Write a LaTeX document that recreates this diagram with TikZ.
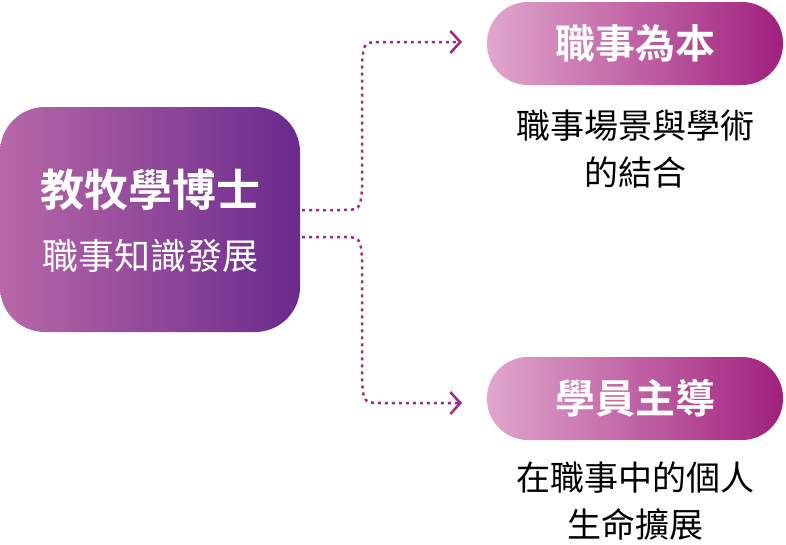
\documentclass[tikz,border=0pt]{standalone}
\usepackage{fontspec}
\usetikzlibrary{arrows.meta,positioning}
\newfontfamily\cjk{Noto Sans CJK TC}
\newfontfamily\cjkbold{Noto Sans CJK TC Bold}
\definecolor{mainL}{HTML}{B868A8}
\definecolor{mainR}{HTML}{6A2A8C}
\definecolor{pillL}{HTML}{E0A6CC}
\definecolor{pillR}{HTML}{A0207E}
\definecolor{linkc}{HTML}{9C2A88}
\tikzset{
  mainbox/.style={minimum width=300pt,minimum height=225pt,rounded corners=45pt,left color=mainL,right color=mainR,inner sep=0pt},
  pillbox/.style={minimum width=296pt,minimum height=83pt,rounded corners=41pt,left color=pillL,right color=pillR,inner sep=0pt,text=white,font=\cjkbold\fontsize{40}{44}\selectfont},
  desc/.style={align=center,font=\cjk\fontsize{34}{47}\selectfont},
  link/.style={draw=linkc,line width=2.5pt,dash pattern=on 3pt off 4pt,-{Straight Barb[length=10pt,width=22pt,line width=2.5pt]}}
}
\begin{document}
\begin{tikzpicture}[x=1pt,y=-1pt]
\useasboundingbox (0,0) rectangle (786,544);
\node[mainbox] (main) at (150,219.5) {};
\node[text=white,font=\cjkbold\fontsize{44}{48}\selectfont] (title) at (150,190) {教牧學博士};
\node[text=white,font=\cjk\fontsize{36}{40}\selectfont] (sub) at (150,256) {職事知識發展};
\node[pillbox] (top) at (635,43.5) {職事為本};
\node[desc] (topd) at (635,149) {職事場景與學術\\的結合};
\node[pillbox] (bot) at (635,398.5) {學員主導};
\node[desc] (botd) at (635,501) {在職事中的個人\\生命擴展};
\coordinate (s1) at (302,210);
\coordinate (s2) at (302,237);
\coordinate (e1) at (462,42);
\coordinate (e2) at (462,403);
\draw[link] (s1) -- (340,210) .. controls (360,210) .. (362,190) -- (362,62) .. controls (364,42) .. (384,42) -- (e1);
\draw[link] (s2) -- (340,237) .. controls (360,237) .. (362,257) -- (362,383) .. controls (364,403) .. (384,403) -- (e2);
\end{tikzpicture}
\end{document}
